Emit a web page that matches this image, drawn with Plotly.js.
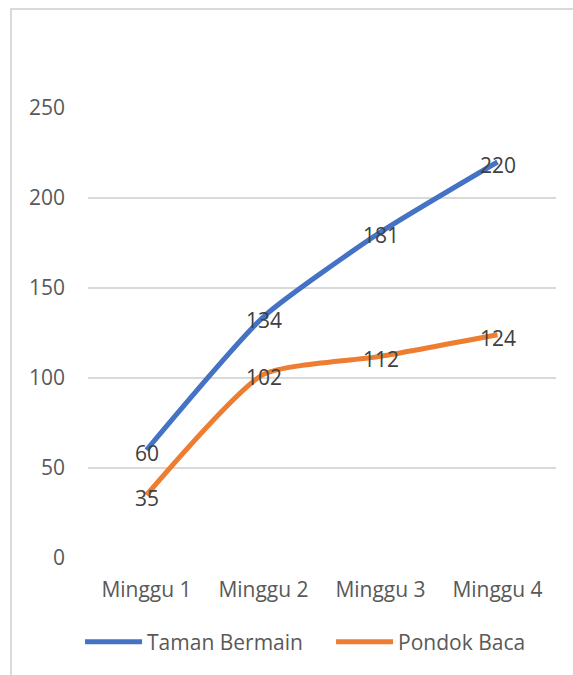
<!DOCTYPE html>
<html>
<head>
<meta charset="utf-8">
<script src="https://cdn.plot.ly/plotly-3.0.1.min.js"></script>
<style>
  html, body { margin: 0; padding: 0; background: #ffffff; }
  #chart { width: 573px; height: 675px; }
</style>
</head>
<body>
<div id="chart"></div>
<script>
const categories = ["Minggu 1", "Minggu 2", "Minggu 3", "Minggu 4"];
const tamanBermain = [60, 134, 181, 220];
const pondokBaca = [35, 102, 112, 124];
const seriesNames = ["Taman Bermain", "Pondok Baca"];
const yTicks = [0, 50, 100, 150, 200, 250];

const FONT = "'Open Sans', 'Noto Sans', sans-serif";

function series(name, values, color) {
  return {
    type: "scatter",
    mode: "lines",
    name: name,
    x: categories,
    y: values,
    line: { color: color, width: 5, shape: "spline", smoothing: 0.55 },
    cliponaxis: false,
    hoverinfo: "skip"
  };
}

const data = [
  series(seriesNames[0], tamanBermain, "#4472C4"),
  series(seriesNames[1], pondokBaca, "#ED7D31")
];

function labels(values) {
  return values.map((v, i) => ({
    x: categories[i],
    y: v,
    xref: "x",
    yref: "y",
    text: String(v),
    showarrow: false,
    yshift: -3,
    font: { family: FONT, size: 21, color: "#404040" }
  }));
}

const layout = {
  width: 573,
  height: 675,
  margin: { l: 88, r: 17, t: 108, b: 117, pad: 0, autoexpand: false },
  paper_bgcolor: "#ffffff",
  plot_bgcolor: "#ffffff",
  font: { family: FONT, size: 21, color: "#595959" },
  showlegend: true,
  legend: {
    orientation: "h",
    x: -0.017,
    xanchor: "left",
    y: -0.187,
    yanchor: "middle",
    itemwidth: 57,
    entrywidth: 179,
    entrywidthmode: "pixels",
    font: { family: FONT, size: 21, color: "#595959" },
    bgcolor: "rgba(0,0,0,0)"
  },
  xaxis: {
    type: "category",
    range: [-0.5, 3.5],
    showgrid: false,
    zeroline: false,
    showline: false,
    ticks: "",
    ticklabelstandoff: 17,
    tickfont: { family: FONT, size: 21, color: "#595959" },
    fixedrange: true
  },
  yaxis: {
    range: [0, 250],
    tickvals: yTicks,
    ticktext: yTicks.map(String),
    showgrid: true,
    gridcolor: "#d9d9d9",
    gridwidth: 1.5,
    zeroline: false,
    showline: false,
    ticks: "",
    ticklabelstandoff: 22,
    tickfont: { family: FONT, size: 21, color: "#595959" },
    fixedrange: true
  },
  annotations: labels(tamanBermain).concat(labels(pondokBaca)),
  shapes: [{
    type: "rect",
    xref: "paper",
    yref: "paper",
    x0: -0.1645,
    x1: 1.3,
    y0: -0.5,
    y1: 1.22,
    line: { color: "#d9d9d9", width: 2 },
    fillcolor: "rgba(0,0,0,0)",
    layer: "below"
  }]
};

Plotly.newPlot("chart", data, layout, { staticPlot: true, displayModeBar: false });
</script>
</body>
</html>
